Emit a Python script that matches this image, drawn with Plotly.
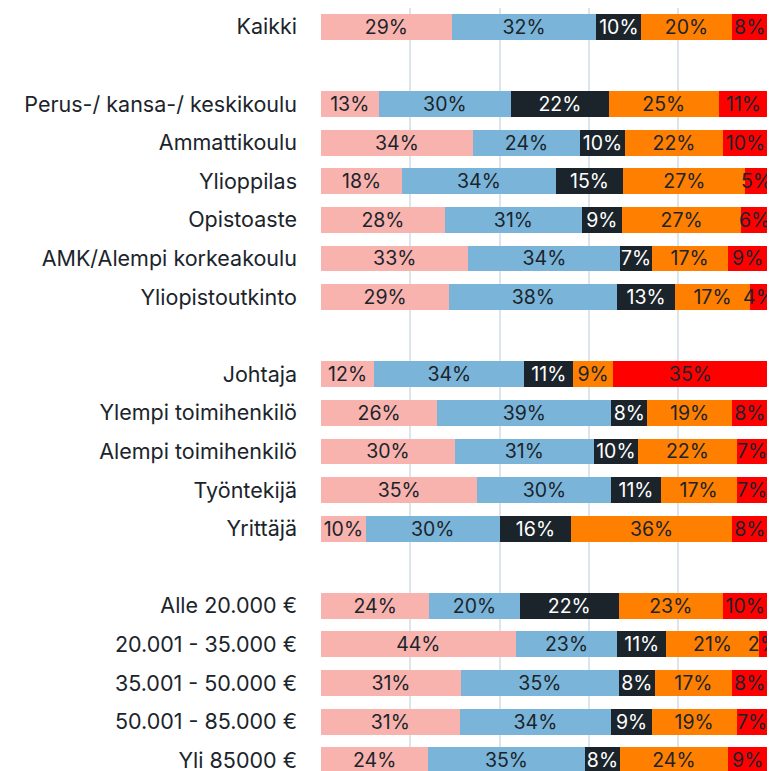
import plotly.graph_objects as go

# ---- data ----
group_all = ["Kaikki"]
group_edu = ["Perus-/ kansa-/ keskikoulu", "Ammattikoulu", "Ylioppilas", "Opistoaste",
             "AMK/Alempi korkeakoulu", "Yliopistoutkinto"]
group_job = ["Johtaja", "Ylempi toimihenkilö", "Alempi toimihenkilö", "Työntekijä", "Yrittäjä"]
group_inc = ["Alle 20.000 €", "20.001 - 35.000 €", "35.001 - 50.000 €", "50.001 - 85.000 €", "Yli 85000 €"]

s1 = [29, 13, 34, 18, 28, 33, 29, 12, 26, 30, 35, 10, 24, 44, 31, 31, 24]
s2 = [32, 30, 24, 34, 31, 34, 38, 34, 39, 31, 30, 30, 20, 23, 35, 34, 35]
s3 = [10, 22, 10, 15, 9, 7, 13, 11, 8, 10, 11, 16, 22, 11, 8, 9, 8]
s4 = [20, 25, 22, 27, 27, 17, 17, 9, 19, 22, 17, 36, 23, 21, 17, 19, 24]
s5 = [8, 11, 10, 5, 6, 9, 4, 35, 8, 7, 7, 8, 10, 2, 8, 7, 9]

series = [s1, s2, s3, s4, s5]
colors = ["#f9b3ae", "#7ab4d9", "#1b242b", "#ff7f00", "#ff0000"]
text_colors = ["#1b242b", "#1b242b", "#ffffff", "#1b242b", "#1b242b"]

# row positions: one empty row between groups
labels, pos = [], []
p = 0
for gi, g in enumerate([group_all, group_edu, group_job, group_inc]):
    if gi > 0:
        p += 1
    for lab in g:
        labels.append(lab)
        pos.append(p)
        p += 1

FONT = "Inter"
fig = go.Figure()
for vals, c, tc in zip(series, colors, text_colors):
    fig.add_trace(go.Bar(
        x=vals, y=pos, orientation="h",
        marker=dict(color=c, line=dict(width=0)),
        width=0.67,
        text=[f"{v}%" for v in vals],
        texttemplate="%{text}",
        textposition="inside",
        insidetextanchor="middle",
        textangle=0,
        textfont=dict(color=tc, size=19.5, family=FONT),
        constraintext="none",
        cliponaxis=False,
        hoverinfo="skip",
    ))

fig.update_layout(
    barmode="stack",
    barnorm="percent",
    width=767, height=763,
    margin=dict(l=313, r=7, t=0, b=0, autoexpand=False),
    paper_bgcolor="white",
    plot_bgcolor="white",
    showlegend=False,
    uniformtext=dict(minsize=19.5, mode="show"),
    font=dict(family=FONT, color="#1b242b"),
)
fig.update_xaxes(
    range=[0, 100.05], tickvals=[0, 20, 40, 60, 80, 100], showticklabels=False,
    showgrid=True, gridcolor="#dce4ec", gridwidth=2, zeroline=False, showline=False,
)
fig.update_yaxes(
    range=[19.28, -0.49], tickvals=pos, ticktext=labels,
    tickfont=dict(size=21.5, family=FONT, color="#1b242b"),
    showgrid=False, zeroline=False, showline=False, ticks="",
    ticklabelstandoff=23, ticklabeloverflow="allow",
)

fig.write_html("out.html")
